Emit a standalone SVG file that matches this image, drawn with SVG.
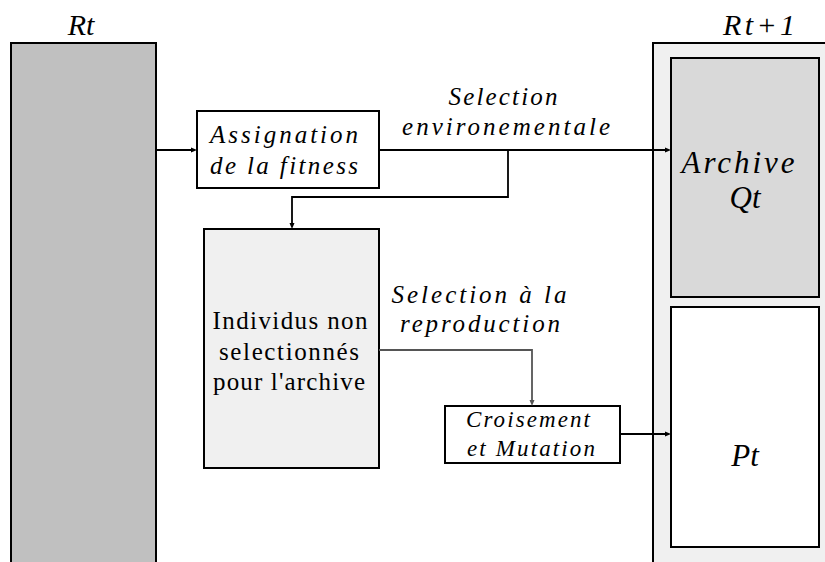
<svg xmlns="http://www.w3.org/2000/svg" width="825" height="562" viewBox="0 0 825 562">
  <style>
    .box { stroke: #000; stroke-width: 2; }
    .wire { fill: none; stroke: #000; stroke-width: 1.8; }
    .wire-grey { fill: none; stroke: #555; stroke-width: 1.8; }
    .head { fill: #000; }
    .head-grey { fill: #555; }
  </style>
  <rect width="825" height="562" fill="#fff"/>

  <!-- population Rt -->
  <g id="rt">
    <rect class="box" x="11" y="43" width="145" height="530" fill="#c0c0c0"/>
    <text x="81" y="35" font-size="30" font-family="'Liberation Serif', 'Times New Roman', 'DejaVu Serif', serif" font-style="italic" text-anchor="middle">Rt</text>
  </g>

  <!-- population Rt+1 with archive and offspring -->
  <g id="rt1">
    <rect class="box" x="653" y="43" width="190" height="530" fill="#f0f0f0"/>
    <text x="759" y="35" font-size="30" font-family="'Liberation Serif', 'Times New Roman', 'DejaVu Serif', serif" font-style="italic" text-anchor="middle" textLength="72" lengthAdjust="spacing">Rt+1</text>
  </g>
  <g id="archive">
    <rect class="box" x="671" y="58" width="148" height="239" fill="#d9d9d9"/>
    <text x="738" y="173" font-size="31" font-family="'Liberation Serif', 'Times New Roman', 'DejaVu Serif', serif" font-style="italic" text-anchor="middle" textLength="113" lengthAdjust="spacing">Archive</text>
    <text x="745" y="208" font-size="31" font-family="'Liberation Serif', 'Times New Roman', 'DejaVu Serif', serif" font-style="italic" text-anchor="middle">Qt</text>
  </g>
  <g id="pt">
    <rect class="box" x="671" y="307" width="148" height="240" fill="#fff"/>
    <text x="745" y="466" font-size="31" font-family="'Liberation Serif', 'Times New Roman', 'DejaVu Serif', serif" font-style="italic" text-anchor="middle">Pt</text>
  </g>

  <!-- fitness assignment -->
  <g id="assignation">
    <rect class="box" x="197" y="111" width="182" height="77" fill="#fff"/>
    <text x="284" y="143" font-size="25" font-family="'Liberation Serif', 'Times New Roman', 'DejaVu Serif', serif" font-style="italic" text-anchor="middle" textLength="148" lengthAdjust="spacing">Assignation</text>
    <text x="284" y="174" font-size="25" font-family="'Liberation Serif', 'Times New Roman', 'DejaVu Serif', serif" font-style="italic" text-anchor="middle" textLength="148" lengthAdjust="spacing">de la fitness</text>
  </g>

  <!-- individuals not kept in the archive -->
  <g id="individus">
    <rect class="box" x="204" y="229" width="175" height="239" fill="#f0f0f0"/>
    <text x="290" y="329" font-size="25" font-family="'Liberation Serif', 'Times New Roman', 'DejaVu Serif', serif" text-anchor="middle" textLength="155" lengthAdjust="spacing">Individus non</text>
    <text x="289" y="360" font-size="25" font-family="'Liberation Serif', 'Times New Roman', 'DejaVu Serif', serif" text-anchor="middle" textLength="140" lengthAdjust="spacing">selectionnés</text>
    <text x="289" y="390" font-size="25" font-family="'Liberation Serif', 'Times New Roman', 'DejaVu Serif', serif" text-anchor="middle" textLength="152" lengthAdjust="spacing">pour l'archive</text>
  </g>

  <!-- crossover and mutation -->
  <g id="croisement">
    <rect class="box" x="445" y="406" width="175" height="57" fill="#fff"/>
    <text x="528" y="427" font-size="23" font-family="'Liberation Serif', 'Times New Roman', 'DejaVu Serif', serif" font-style="italic" text-anchor="middle" textLength="124" lengthAdjust="spacing">Croisement</text>
    <text x="531" y="456" font-size="23" font-family="'Liberation Serif', 'Times New Roman', 'DejaVu Serif', serif" font-style="italic" text-anchor="middle" textLength="128" lengthAdjust="spacing">et Mutation</text>
  </g>

  <!-- connectors, each line ends in a small filled arrowhead -->
  <g id="connectors">
    <line class="wire" x1="156" y1="150" x2="192" y2="150"/>
    <path class="head" d="M197,150 L191,147.5 L191,152.5 Z"/>
    <line class="wire" x1="379" y1="150" x2="666" y2="150"/>
    <path class="head" d="M671,150 L665,147.5 L665,152.5 Z"/>
    <polyline class="wire" points="508,150 508,197 292,197 292,224"/>
    <path class="head" d="M292,229 L289.5,223 L294.5,223 Z"/>
    <polyline class="wire-grey" points="379,350 532,350 532,401"/>
    <path class="head-grey" d="M532,406 L529.5,400 L534.5,400 Z"/>
    <line class="wire" x1="620" y1="434" x2="666" y2="434"/>
    <path class="head" d="M671,434 L665,431.5 L665,436.5 Z"/>
    <text x="503" y="105" font-size="25" font-family="'Liberation Serif', 'Times New Roman', 'DejaVu Serif', serif" font-style="italic" text-anchor="middle" textLength="109" lengthAdjust="spacing">Selection</text>
    <text x="506" y="135" font-size="25" font-family="'Liberation Serif', 'Times New Roman', 'DejaVu Serif', serif" font-style="italic" text-anchor="middle" textLength="208" lengthAdjust="spacing">environementale</text>
    <text x="479" y="303" font-size="25" font-family="'Liberation Serif', 'Times New Roman', 'DejaVu Serif', serif" font-style="italic" text-anchor="middle" textLength="175" lengthAdjust="spacing">Selection à la</text>
    <text x="480" y="332" font-size="25" font-family="'Liberation Serif', 'Times New Roman', 'DejaVu Serif', serif" font-style="italic" text-anchor="middle" textLength="160" lengthAdjust="spacing">reproduction</text>
  </g>
</svg>
